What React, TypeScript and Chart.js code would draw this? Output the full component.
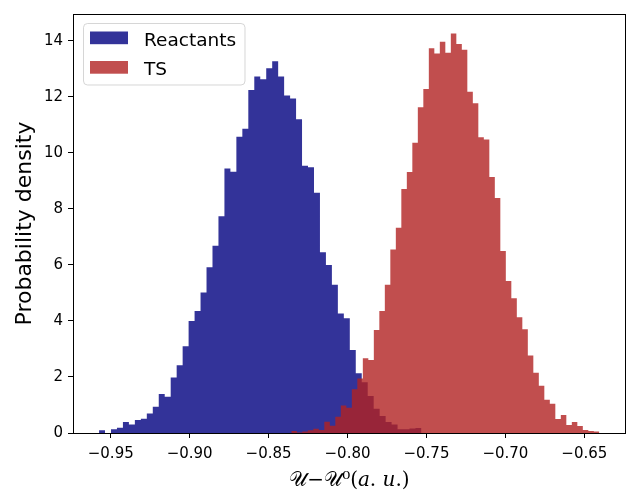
import React, { useEffect, useRef } from "react";
import { Chart, registerables } from "chart.js";

Chart.register(...registerables);

// ---- data ----
const seriesLabels = ["Reactants", "TS"];

const reactantsBinStart = -0.9574;
const reactantsBinWidth = 0.003782;
const reactantsDensity = [
  0.1, 0, 0.13, 0.19, 0.39, 0.3, 0.46, 0.51, 0.7, 0.94,
  1.39, 1.29, 1.98, 2.42, 3.1, 4.0, 4.36, 5.02, 5.92, 6.69,
  7.74, 9.44, 9.33, 10.58, 10.86, 12.25, 12.73, 12.63, 13.02, 13.27,
  12.73, 12.05, 11.94, 11.2, 9.54, 9.49, 8.58, 6.45, 6.0, 5.29,
  4.27, 4.1, 2.96, 2.13, 1.81, 1.32, 0.87, 0.61, 0.39, 0.3,
  0.13, 0.13, 0.16, 0.18,
];

const tsBinStart = -0.8356;
const tsBinWidth = 0.003484;
const tsDensity = [
  0.07, 0.02, 0.05, 0.1, 0.15, 0.11, 0.4, 0.26, 0.58, 0.98,
  0.9, 1.56, 1.95, 2.67, 2.61, 3.68, 4.36, 5.29, 6.55, 7.33,
  8.71, 9.32, 10.36, 11.63, 12.28, 13.74, 13.55, 13.97, 13.58, 14.26,
  13.89, 13.68, 12.18, 11.77, 10.56, 10.48, 9.14, 8.39, 6.5, 5.43,
  4.81, 4.13, 3.7, 2.77, 2.15, 1.69, 1.19, 1.04, 0.5, 0.64,
  0.29, 0.39, 0.25, 0.11, 0.07, 0.05,
];

const xTicks = [-0.95, -0.9, -0.85, -0.8, -0.75, -0.7, -0.65];
const yTicks = [0, 2, 4, 6, 8, 10, 12, 14];
const xRange = [-0.9739, -0.6236];
const yRange = [0, 14.96];
const xTitle = "\u{1D4B0}\u2212\u{1D4B0}\u2070(\u{1D44E}. \u{1D462}.)";
const yTitle = "Probability density";

const seriesColors = ["rgba(0,0,128,0.8)", "rgba(178,34,34,0.8)"];

function histogramPoints(start: number, width: number, values: number[]) {
  const pts = values.map((v, i) => ({ x: start + i * width, y: v }));
  pts.push({ x: start + values.length * width, y: values[values.length - 1] });
  return pts;
}

const FONT = '"DejaVu Sans", sans-serif';

const framePlugin = {
  id: "frameAndLegend",
  afterDraw(chart: any) {
    const { ctx, chartArea } = chart;
    const { left, right, top, bottom } = chartArea;
    ctx.save();
    // full axes frame
    ctx.strokeStyle = "#000";
    ctx.lineWidth = 1;
    ctx.strokeRect(Math.round(left) + 0.5, Math.round(top) + 0.5, Math.round(right - left) - 1, Math.round(bottom - top));
    // legend
    const bx = left + 10.5;
    const by = top + 9.5;
    const bw = 161.5;
    const bh = 61.5;
    const r = 4;
    ctx.beginPath();
    ctx.moveTo(bx + r, by);
    ctx.lineTo(bx + bw - r, by);
    ctx.arcTo(bx + bw, by, bx + bw, by + r, r);
    ctx.lineTo(bx + bw, by + bh - r);
    ctx.arcTo(bx + bw, by + bh, bx + bw - r, by + bh, r);
    ctx.lineTo(bx + r, by + bh);
    ctx.arcTo(bx, by + bh, bx, by + bh - r, r);
    ctx.lineTo(bx, by + r);
    ctx.arcTo(bx, by, bx + r, by, r);
    ctx.closePath();
    ctx.fillStyle = "rgba(255,255,255,0.8)";
    ctx.fill();
    ctx.strokeStyle = "rgba(204,204,204,0.8)";
    ctx.stroke();
    const datasets = chart.data.datasets;
    ctx.font = `18.5px ${FONT}`;
    ctx.textBaseline = "alphabetic";
    ctx.textAlign = "left";
    datasets.forEach((ds: any, i: number) => {
      const rowY = by + 8 + i * 29.5;
      ctx.fillStyle = ds.backgroundColor;
      ctx.fillRect(bx + 6.5, rowY, 38, 12.7);
      ctx.fillStyle = "#000";
      ctx.fillText(ds.label, bx + 60.5, rowY + 14);
    });
    ctx.restore();
  },
};

export default function App() {
  const ref = useRef<HTMLCanvasElement | null>(null);
  useEffect(() => {
    if (!ref.current) return;
    const chart = new Chart(ref.current, {
      type: "line",
      data: {
        datasets: [
          {
            label: seriesLabels[0],
            data: histogramPoints(reactantsBinStart, reactantsBinWidth, reactantsDensity),
            stepped: "before",
            fill: "origin",
            backgroundColor: seriesColors[0],
            borderColor: "transparent",
            borderWidth: 0,
            pointRadius: 0,
            order: 1,
          },
          {
            label: seriesLabels[1],
            data: histogramPoints(tsBinStart, tsBinWidth, tsDensity),
            stepped: "before",
            fill: "origin",
            backgroundColor: seriesColors[1],
            borderColor: "transparent",
            borderWidth: 0,
            pointRadius: 0,
            order: 0,
          },
        ],
      },
      options: {
        animation: false,
        responsive: false,
        events: [],
        layout: { padding: { top: 14, right: 1, left: 0, bottom: 0 } },
        plugins: {
          legend: { display: false },
          tooltip: { enabled: false },
          filler: { propagate: false },
        },
        scales: {
          x: {
            type: "linear",
            min: xRange[0],
            max: xRange[1],
            afterBuildTicks: (scale: any) => {
              scale.ticks = xTicks.map((v) => ({ value: v }));
            },
            afterFit: (scale: any) => {
              scale.height = 59;
            },
            border: { display: false },
            grid: { display: true, drawOnChartArea: false, drawTicks: true, tickLength: 5, color: "#000", lineWidth: 1 },
            ticks: {
              color: "#000",
              font: { family: FONT, size: 15 },
              padding: 7,
              maxRotation: 0,
              autoSkip: false,
              callback: (v: any) => (Number(v) < 0 ? "\u2212" : "") + Math.abs(Number(v)).toFixed(2),
            },
            title: {
              display: true,
              text: xTitle,
              color: "#000",
              font: { family: '"DejaVu Serif", "DejaVu Sans", serif', size: 20 },
              padding: { top: 0, bottom: -1 },
            },
          },
          y: {
            type: "linear",
            min: yRange[0],
            max: yRange[1],
            afterBuildTicks: (scale: any) => {
              scale.ticks = yTicks.map((v) => ({ value: v }));
            },
            afterFit: (scale: any) => {
              scale.width = 73;
            },
            border: { display: false },
            grid: { display: true, drawOnChartArea: false, drawTicks: true, tickLength: 5, color: "#000", lineWidth: 1 },
            ticks: {
              color: "#000",
              font: { family: FONT, size: 15 },
              padding: 5,
              autoSkip: false,
              callback: (v: any) => String(v),
            },
            title: {
              display: true,
              text: yTitle,
              color: "#000",
              font: { family: FONT, size: 22 },
              padding: { top: 12, bottom: 0 },
            },
          },
        },
      },
      plugins: [framePlugin],
    } as any);
    return () => chart.destroy();
  }, []);
  return (
    <div style={{ position: "fixed", left: 0, top: 0, width: 627, height: 492, background: "#fff" }}>
      <canvas ref={ref} width={627} height={492} style={{ display: "block" }} />
    </div>
  );
}
